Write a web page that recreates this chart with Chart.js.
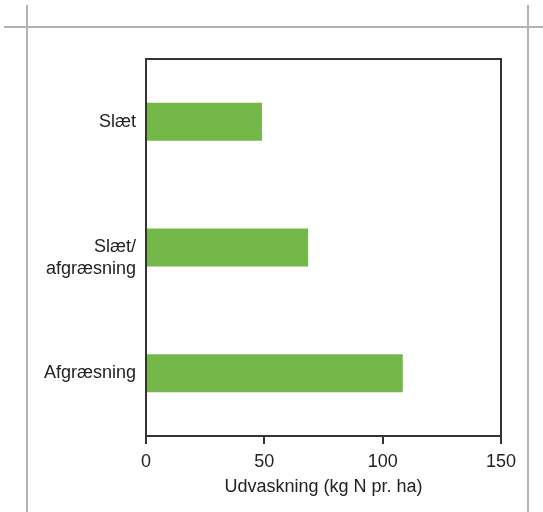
<!DOCTYPE html>
<html>
<head>
<meta charset="utf-8">
<script src="https://cdn.jsdelivr.net/npm/chart.js@4"></script>
<style>
  html, body { margin: 0; padding: 0; background: #fff; }
  #wrap { position: relative; width: 543px; height: 512px; }
  .rule { position: absolute; background: #b3b3b6; }
</style>
</head>
<body>
<div id="wrap">
  <div class="rule" style="left:4px; top:26px; width:539px; height:2px;"></div>
  <div class="rule" style="left:26px; top:5px; width:2px; height:507px;"></div>
  <div class="rule" style="left:527px; top:5px; width:2px; height:507px;"></div>
  <canvas id="chart" width="543" height="512"></canvas>
</div>
<script>
// kategorier og værdier (tom første linje skubber "Slæt/" ned til søjlens midte)
const categories = ["Slæt", ["", "Slæt/", "afgræsning"], "Afgræsning"];
const udvaskning = [49, 68.5, 108.5];
const xTicks = [0, 50, 100, 150];

const ink = "#333333";
const font = { family: "Liberation Sans", size: 18, lineHeight: 1.2 };

// ramme rundt om plotområdet
const boxPlugin = {
  id: "box",
  afterDraw(chart) {
    const a = chart.chartArea;
    const ctx = chart.ctx;
    ctx.save();
    ctx.strokeStyle = ink;
    ctx.lineWidth = 2;
    ctx.strokeRect(a.left, a.top, a.right - a.left, a.bottom - a.top);
    ctx.restore();
  }
};

new Chart(document.getElementById("chart"), {
  type: "bar",
  data: {
    labels: categories,
    datasets: [{
      data: udvaskning,
      backgroundColor: "#74b84a",
      borderWidth: 0,
      barPercentage: 0.303,
      categoryPercentage: 1
    }]
  },
  options: {
    indexAxis: "y",
    responsive: false,
    animation: false,
    layout: { padding: { left: 0, top: 59, right: 42, bottom: 14 } },
    plugins: { legend: { display: false }, tooltip: { enabled: false } },
    scales: {
      x: {
        min: 0,
        max: 150,
        afterBuildTicks(scale) {
          scale.ticks = xTicks.map(v => ({ value: v }));
        },
        afterFit(scale) { scale.height = 62; },
        grid: { drawOnChartArea: false, tickLength: 8, color: ink, lineWidth: 2 },
        border: { display: true, color: ink, width: 2 },
        ticks: { color: "#222", font: font, padding: 7 },
        title: {
          display: true,
          text: "Udvaskning (kg N pr. ha)",
          color: "#222",
          font: font,
          padding: { top: 0, bottom: 0 }
        }
      },
      y: {
        afterFit(scale) { scale.width = 146; },
        grid: { display: false, drawTicks: false },
        border: { display: true, color: ink, width: 2 },
        ticks: { color: "#222", font: font, padding: 10 }
      }
    }
  },
  plugins: [boxPlugin]
});
</script>
</body>
</html>
